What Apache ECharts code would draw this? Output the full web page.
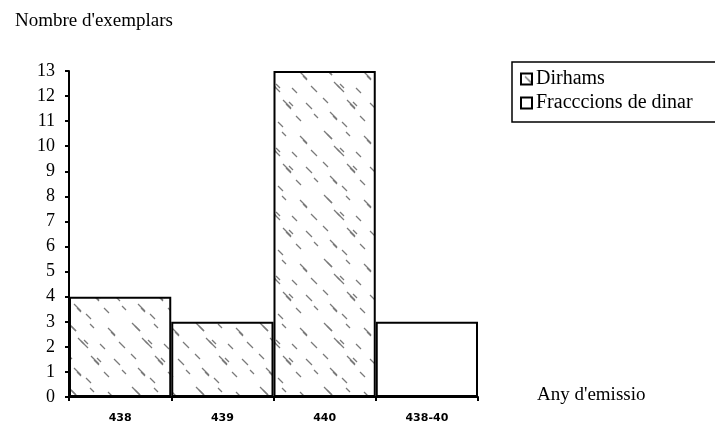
<!DOCTYPE html>
<html>
<head>
<meta charset="utf-8">
<script src="https://cdn.jsdelivr.net/npm/echarts@6/dist/echarts.min.js"></script>
<style>
  html, body { margin: 0; padding: 0; background: #fff; }
  #chart { width: 715px; height: 426px; }
</style>
</head>
<body>
<div id="chart"></div>
<script>
// Coins per year of issue
const years = ['438', '439', '440', '438-40'];
const dirhams = [4, 3, 13, '-'];
const fraccions = ['-', '-', '-', 3];
const yTicks = { min: 0, max: 13, step: 1 };

// Speckled fill for the dirham bars: clusters of short grey diagonal strokes
function speckle() {
  const c = document.createElement('canvas');
  c.width = 64; c.height = 64;
  const g = c.getContext('2d');
  g.fillStyle = '#fff';
  g.fillRect(0, 0, 64, 64);
  g.strokeStyle = '#7a7a7a';
  g.lineWidth = 1.2;
  const strokes = [
    [4, 3, 8], [7, 6, 5], [26, 4, 4], [44, 8, 7], [47, 12, 4],
    [14, 18, 6], [17, 21, 7], [20, 20, 4], [36, 24, 5], [55, 22, 6],
    [3, 34, 5], [27, 36, 8], [30, 40, 5], [33, 38, 4], [50, 39, 6],
    [10, 48, 7], [13, 52, 4], [40, 52, 5], [58, 50, 4], [22, 58, 5]
  ];
  strokes.forEach(([x, y, l]) => {
    g.beginPath();
    g.moveTo(x, y);
    g.lineTo(x + l, y + l);
    g.stroke();
  });
  return c;
}

const serif = '"Liberation Serif", "DejaVu Serif", serif';
const chart = echarts.init(document.getElementById('chart'));

chart.setOption({
  animation: false,
  backgroundColor: '#fff',
  title: {
    text: "Nombre d'exemplars",
    left: 10, top: 7,
    textStyle: { fontFamily: serif, fontSize: 19, fontWeight: 'normal', color: '#000' }
  },
  legend: {
    orient: 'vertical',
    left: 512, top: 62,
    itemWidth: 11, itemHeight: 11, itemGap: 4,
    padding: [7, 40, 9, 8],
    borderColor: '#000', borderWidth: 1.5,
    icon: 'rect',
    textStyle: { fontFamily: serif, fontSize: 20, color: '#000', padding: [0, 0, 0, -1] },
    data: ['Dirhams', 'Fracccions de dinar']
  },
  grid: { left: 69, right: 237, top: 71, bottom: 29 },
  xAxis: {
    type: 'category',
    data: years,
    axisLine: { lineStyle: { color: '#000', width: 2 } },
    axisTick: { show: true, length: 4, lineStyle: { color: '#000', width: 2 } },
    axisLabel: {
      margin: 16,
      fontFamily: '"DejaVu Sans", sans-serif',
      fontSize: 11, fontWeight: 'bold', color: '#000'
    }
  },
  yAxis: {
    type: 'value',
    min: yTicks.min, max: yTicks.max, interval: yTicks.step,
    splitLine: { show: false },
    axisLine: { show: true, lineStyle: { color: '#000', width: 2 } },
    axisTick: { show: true, length: 4, lineStyle: { color: '#000', width: 2 } },
    axisLabel: { margin: 14, fontFamily: serif, fontSize: 18, color: '#000' }
  },
  series: [
    {
      name: 'Dirhams',
      type: 'bar',
      stack: 'coins',
      barWidth: '100%',
      data: dirhams,
      itemStyle: {
        color: { image: speckle(), repeat: 'repeat' },
        borderColor: '#000', borderWidth: 2
      }
    },
    {
      name: 'Fracccions de dinar',
      type: 'bar',
      stack: 'coins',
      barWidth: '100%',
      data: fraccions,
      itemStyle: { color: '#fff', borderColor: '#000', borderWidth: 2 }
    }
  ],
  graphic: [
    {
      type: 'text',
      left: 537, top: 386,
      style: { text: "Any d'emissio", font: '19px ' + serif, fill: '#000' }
    }
  ]
});
</script>
</body>
</html>
